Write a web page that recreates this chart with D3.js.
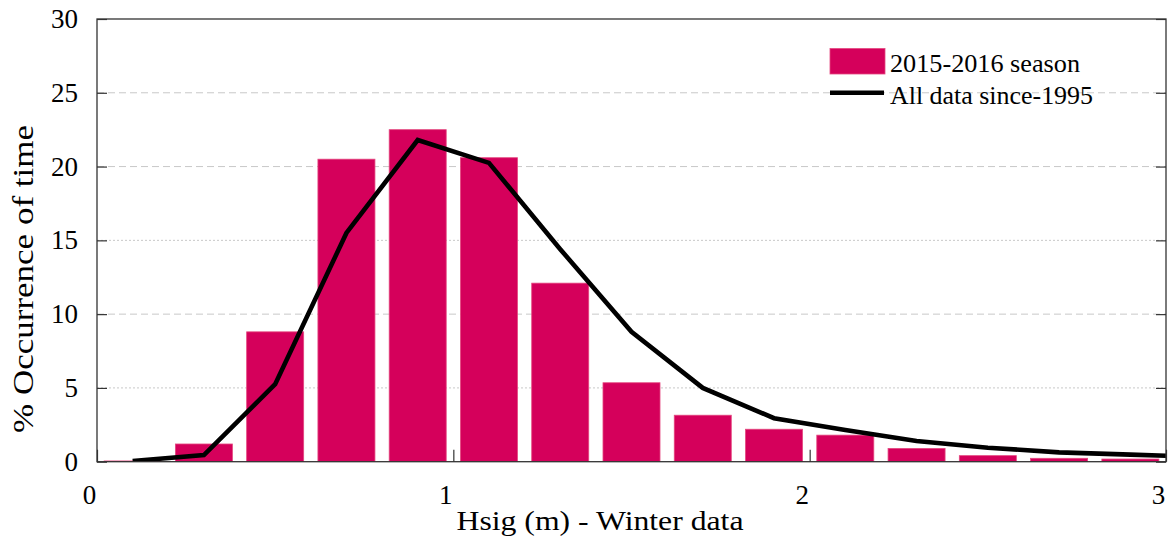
<!DOCTYPE html>
<html>
<head>
<meta charset="utf-8">
<script src="https://cdn.jsdelivr.net/npm/d3@7"></script>
<style>
  html, body { margin: 0; padding: 0; background: #fff; }
  svg { display: block; }
</style>
</head>
<body>
<svg id="chart" width="1174" height="555"></svg>
<script>
// Histogram bin centres, Hsig (m)
const binCentres = [0.1, 0.3, 0.5, 0.7, 0.9, 1.1, 1.3, 1.5, 1.7, 1.9, 2.1, 2.3, 2.5, 2.7, 2.9];
// % occurrence of time, 2015-2016 winter season
const seasonPct = [0.05, 1.2, 8.8, 20.5, 22.5, 20.6, 12.1, 5.35, 3.15, 2.2, 1.8, 0.9, 0.41, 0.23, 0.18];
// Long-term curve (all data since 1995); last point lies past the axis and is clipped
const longTermHsig = [0.1, 0.3, 0.5, 0.7, 0.9, 1.1, 1.3, 1.5, 1.7, 1.9, 2.1, 2.3, 2.5, 2.7, 2.9, 3.1];
const longTermPct = [0.05, 0.45, 5.25, 15.5, 21.8, 20.25, 14.4, 8.8, 5.0, 2.95, 2.15, 1.4, 0.95, 0.63, 0.48, 0.32];
// Axis ticks
const xTicks = [0, 1, 2, 3];
const yTicks = [0, 5, 10, 15, 20, 25, 30];
const gridTicks = [5, 10, 15, 20, 25];
const legendLabels = ["2015-2016 season", "All data since-1995"];

const binWidth = 0.2, barFraction = 0.8;
const plotLeft = 97, plotRight = 1166, plotTop = 19, plotBottom = 461.7;
const serif = '"Liberation Serif", "Times New Roman", Times, serif';
const barColor = "#d5005b";

const svg = d3.select("#chart");
const x = d3.scaleLinear().domain([0, 3]).range([plotLeft, plotRight]);
const y = d3.scaleLinear().domain([0, 30]).range([plotBottom, plotTop]);

svg.append("defs").append("clipPath").attr("id", "plot-clip")
  .append("rect").attr("x", plotLeft).attr("y", plotTop)
  .attr("width", plotRight - plotLeft).attr("height", plotBottom - plotTop);

// horizontal grid
svg.append("g").selectAll("line").data(gridTicks).join("line")
  .attr("x1", plotLeft).attr("x2", plotRight)
  .attr("y1", d => y(d)).attr("y2", d => y(d))
  .attr("stroke", "#c8c8c8").attr("stroke-width", 1)
  .attr("stroke-dasharray", d => (d === 5 || d === 15) ? "2,2" : "7,4");

// bars
const plot = svg.append("g").attr("clip-path", "url(#plot-clip)");
plot.selectAll("rect").data(binCentres).join("rect")
  .attr("x", d => x(d - binWidth * barFraction / 2))
  .attr("width", d => x(d + binWidth * barFraction / 2) - x(d - binWidth * barFraction / 2))
  .attr("y", (d, i) => y(seasonPct[i]))
  .attr("height", (d, i) => y(0) - y(seasonPct[i]))
  .attr("fill", barColor)
  .attr("stroke", "#e4477f").attr("stroke-width", 0.8);

// long-term curve
const lineGen = d3.line().x(d => x(d[0])).y(d => y(d[1]));
plot.append("path")
  .datum(longTermHsig.map((h, i) => [h, longTermPct[i]]))
  .attr("d", lineGen)
  .attr("fill", "none").attr("stroke", "#000")
  .attr("stroke-width", 4.6).attr("stroke-linejoin", "miter");

// frame
svg.append("rect").attr("x", plotLeft).attr("y", plotTop)
  .attr("width", plotRight - plotLeft).attr("height", plotBottom - plotTop)
  .attr("fill", "none").attr("stroke", "#333").attr("stroke-width", 1.3);

// axes
const yAxis = svg.append("g").attr("transform", `translate(${plotLeft},0)`)
  .call(d3.axisLeft(y).tickValues(yTicks).tickFormat(d3.format("d"))
    .tickSizeInner(-10).tickSizeOuter(0).tickPadding(19));
const yAxisR = svg.append("g").attr("transform", `translate(${plotRight},0)`)
  .call(d3.axisRight(y).tickValues(yTicks).tickSizeInner(-10).tickSizeOuter(0).tickFormat(""));
const xAxis = svg.append("g").attr("transform", `translate(0,${plotBottom})`)
  .call(d3.axisBottom(x).tickValues(xTicks).tickFormat(d3.format("d"))
    .tickSizeInner(-12).tickSizeOuter(0).tickPadding(23));

[yAxis, yAxisR, xAxis].forEach(g => {
  g.attr("font-family", serif).attr("font-size", 27);
  g.select(".domain").remove();
  g.selectAll(".tick line").attr("stroke", "#333").attr("stroke-width", 1.2);
  g.selectAll("text").attr("fill", "#000");
});
xAxis.selectAll("text").attr("dx", -8);

// axis titles
svg.append("text")
  .attr("x", 600).attr("y", 530)
  .attr("text-anchor", "middle").attr("font-family", serif).attr("font-size", 28)
  .attr("textLength", 287).attr("lengthAdjust", "spacingAndGlyphs")
  .text("Hsig (m) - Winter data");
svg.append("text")
  .attr("transform", "translate(33,279) rotate(-90)")
  .attr("text-anchor", "middle").attr("font-family", serif).attr("font-size", 29)
  .attr("textLength", 308).attr("lengthAdjust", "spacingAndGlyphs")
  .text("% Occurrence of time");

// legend
const lg = svg.append("g").attr("font-family", serif).attr("font-size", 25);
lg.append("rect").attr("x", 830).attr("y", 48.5).attr("width", 55).attr("height", 25.5)
  .attr("fill", barColor).attr("stroke", "#e4477f").attr("stroke-width", 0.8);
lg.append("line").attr("x1", 830).attr("x2", 884).attr("y1", 92.7).attr("y2", 92.7)
  .attr("stroke", "#000").attr("stroke-width", 4.6);
lg.selectAll("text").data(legendLabels).join("text")
  .attr("x", 890).attr("y", (d, i) => i === 0 ? 71.5 : 103.5)
  .attr("textLength", (d, i) => i === 0 ? 190 : 203).attr("lengthAdjust", "spacingAndGlyphs")
  .text(d => d);
</script>
</body>
</html>
